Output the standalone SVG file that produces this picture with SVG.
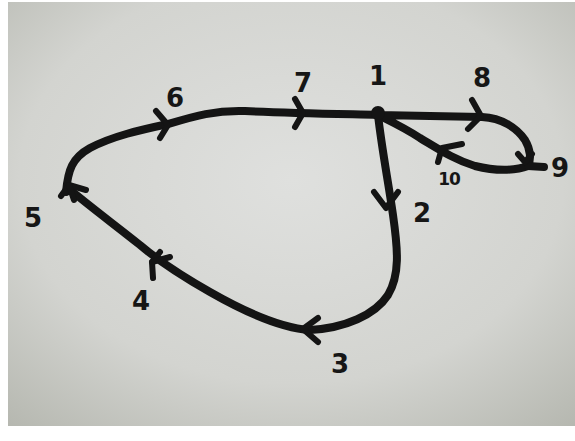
<svg xmlns="http://www.w3.org/2000/svg" width="575" height="441" viewBox="0 0 575 441">
<defs>
<radialGradient id="bg" cx="0.5" cy="0.42" r="0.8">
<stop offset="0" stop-color="#dfe0de"/>
<stop offset="0.6" stop-color="#d3d4d0"/>
<stop offset="1" stop-color="#b2b4ac"/>
</radialGradient>
<style>
.edge{fill:none;stroke:#141414;stroke-width:8;stroke-linecap:round;stroke-linejoin:round}
.tick{fill:none;stroke:#141414;stroke-width:6;stroke-linecap:round;stroke-linejoin:round}
.lbl{font-family:"DejaVu Sans",sans-serif;font-weight:bold;font-size:26px;fill:#161616;text-anchor:middle}
</style>
</defs>
<rect x="0" y="0" width="575" height="441" fill="#ffffff"/>
<rect x="8" y="2" width="567" height="424" fill="url(#bg)"/>
<g id="connectors">
<path class="edge" d="M66,192 C68,170 72,158 90,148 C113,136 140,130 168,124 C195,116 215,110 245,111 C290,113 340,114 378,115"/>
<path class="edge" d="M378,115 L482,117 C502,118 517,128 525,140 C531,150 531,160 528,166 C515,171 495,171 475,166 C455,160 440,150 420,138 C405,128 392,122 378,115"/>
<path class="edge" d="M528,166 L544,167"/>
<path class="edge" d="M378,115 C382,150 388,180 393,215 C398,250 400,275 388,295 C375,315 345,328 310,330 C280,328 245,312 210,292 C180,275 160,262 140,245 C115,225 88,205 68,188"/>
</g>
<g id="node-1"><circle cx="378" cy="113" r="7" fill="#141414"/><text class="lbl" x="378" y="85">1</text></g>
<g id="node-2"><polyline class="tick" points="374,192 386,208 398,192"/><text class="lbl" x="422" y="222">2</text></g>
<g id="node-3"><polyline class="tick" points="318,318 303,329 318,342"/><text class="lbl" x="340" y="373">3</text></g>
<g id="node-4"><polyline class="tick" points="160,252 152,262 153,278"/><polyline class="tick" points="152,262 170,257"/><text class="lbl" x="141" y="310">4</text></g>
<g id="node-5"><polyline class="tick" points="61,196 69,185 86,190"/><polyline class="tick" points="69,185 74,200"/><text class="lbl" x="33" y="227">5</text></g>
<g id="node-6"><polyline class="tick" points="156,111 168,125 160,138"/><text class="lbl" x="175" y="107">6</text></g>
<g id="node-7"><polyline class="tick" points="295,99 303,113 295,127"/><text class="lbl" x="303" y="92">7</text></g>
<g id="node-8"><polyline class="tick" points="472,100 481,116 468,129"/><text class="lbl" x="482" y="87">8</text></g>
<g id="node-9"><polyline class="tick" points="518,154 525,162 532,154"/><text class="lbl" x="560" y="177">9</text></g>
<g id="node-10"><polyline class="tick" points="462,144 442,148 438,162"/><text class="lbl" x="449" y="185" style="font-size:17px;letter-spacing:-1px">10</text></g>
</svg>
